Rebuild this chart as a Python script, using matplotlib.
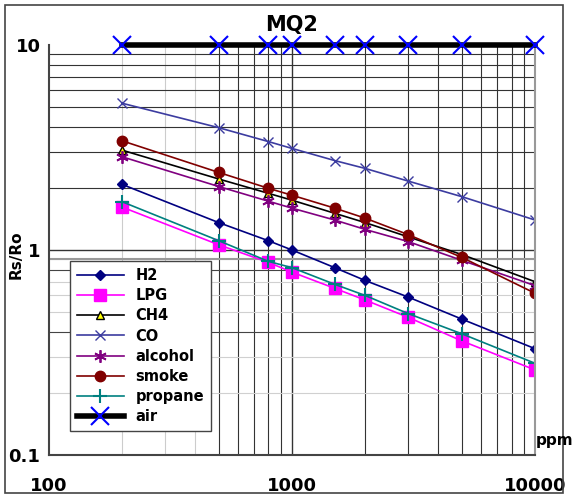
import matplotlib.pyplot as plt
from matplotlib.patches import Rectangle
from matplotlib.ticker import FixedLocator, NullLocator

# gas concentration (ppm) and sensor ratio Rs/Ro
ppm = [200, 500, 800, 1000, 1500, 2000, 3000, 5000, 10000]
h2 = [2.09, 1.36, 1.11, 1.0, 0.82, 0.71, 0.59, 0.46, 0.33]
lpg = [1.62, 1.06, 0.87, 0.78, 0.65, 0.57, 0.47, 0.36, 0.26]
ch4 = [3.07, 2.22, 1.89, 1.75, 1.51, 1.36, 1.16, 0.95, 0.70]
co = [5.2, 3.95, 3.38, 3.13, 2.73, 2.5, 2.17, 1.82, 1.4]
alcohol = [2.85, 2.04, 1.73, 1.6, 1.4, 1.26, 1.1, 0.89, 0.67]
smoke = [3.41, 2.39, 2.0, 1.85, 1.6, 1.43, 1.19, 0.92, 0.615]
propane = [1.72, 1.11, 0.88, 0.82, 0.68, 0.60, 0.49, 0.39, 0.28]
air = [10, 10, 10, 10, 10, 10, 10, 10, 10]

fig = plt.figure(figsize=(5.81, 5.0), dpi=100)
ax = fig.add_axes([0.084, 0.09, 0.837, 0.82])
ax.set_xscale('log')
ax.set_yscale('log')
ax.set_xlim(100, 10000)
ax.set_ylim(0.1, 10)

# grid drawn by hand so the lighter/darker lines match
for dec in [100, 1000]:
    for m in range(2, 10):
        x = dec * m
        col = '#cccccc' if x < 500 else '#333333'
        ax.axvline(x, color=col, lw=0.8, zorder=0)
ax.axvline(1000, color='#333333', lw=1.0, zorder=0)
for m in range(2, 10):
    ax.axhline(m, color='#333333', lw=0.8, zorder=0)
    col = '#444444' if m in (4, 8) else '#d0d0d0'
    ax.axhline(m / 10, color=col, lw=0.8, zorder=0)
ax.axhline(1, color='#333333', lw=1.0, zorder=0)
ax.axhline(0.9, color='#999999', lw=1.5, zorder=0)

asterisk = (6, 2, 0)
ax.plot(ppm, h2, color='#000080', marker='D', ms=5, lw=1.2, label='H2')
ax.plot(ppm, lpg, color='#ff00ff', marker='s', ms=8, lw=1.2, label='LPG')
ax.plot(ppm, ch4, color='black', marker='^', ms=6, mfc='yellow', mec='black', lw=1.2, label='CH4')
ax.plot(ppm, co, color='#3c3ca0', marker='x', ms=7, lw=1.2, label='CO')
ax.plot(ppm, alcohol, color='#800080', marker=asterisk, ms=9, mew=1.3, lw=1.2, label='alcohol')
ax.plot(ppm, smoke, color='#800000', marker='o', ms=7.5, lw=1.2, label='smoke')
ax.plot(ppm, propane, color='#008080', marker='+', ms=10, mew=1.5, lw=1.2, label='propane')
ax.plot(ppm, air, color='black', lw=4, marker='x', ms=13, mew=1.5, mec='#0000ff',
        label='air', clip_on=False, zorder=5)

ax.xaxis.set_major_locator(FixedLocator([100, 1000, 10000]))
ax.yaxis.set_major_locator(FixedLocator([0.1, 1, 10]))
ax.xaxis.set_minor_locator(NullLocator())
ax.yaxis.set_minor_locator(NullLocator())
ax.set_xticklabels(['100', '1000', '10000'], fontsize=13, fontweight='bold')
ax.set_yticklabels(['0.1', '1', '10'], fontsize=13, fontweight='bold')
ax.tick_params(axis='x', length=0, pad=16)
ax.tick_params(axis='y', length=0, pad=6)

for s in ['left', 'bottom']:
    ax.spines[s].set_color('#444444')
    ax.spines[s].set_linewidth(1.5)
ax.spines['right'].set_color('#999999')
ax.spines['right'].set_linewidth(1.5)
ax.spines['top'].set_visible(False)

ax.set_title('MQ2', fontsize=15, fontweight='bold', pad=10)
fig.text(0.027, 0.49, 'Rs/Ro', fontsize=11, fontweight='bold', rotation=90,
         ha='center', va='center')
fig.text(0.955, 0.12, 'ppm', fontsize=11, fontweight='bold', ha='center', va='center')

leg = ax.legend(loc='lower left', bbox_to_anchor=(0.028, 0.04), fontsize=10.5,
                handlelength=3.2, borderpad=0.5, labelspacing=0.35,
                fancybox=False, framealpha=1, edgecolor='#444444')
for t in leg.get_texts():
    t.set_fontweight('bold')

fig.patches.append(Rectangle((0.0086, 0.014), 0.96, 0.976, transform=fig.transFigure,
                             fill=False, edgecolor='#444444', lw=1.2))

fig.savefig('out.png', dpi=100)
